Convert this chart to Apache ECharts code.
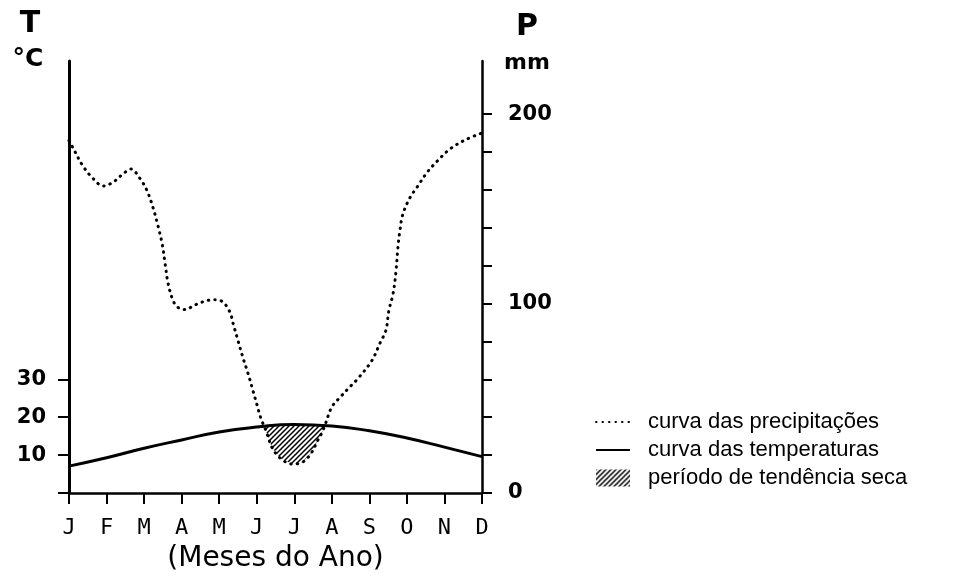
<!DOCTYPE html>
<html lang="pt">
<head>
<meta charset="UTF-8">
<title>Diagrama ombrotérmico</title>
<script src="https://cdn.jsdelivr.net/npm/echarts@6/dist/echarts.min.js"></script>
<style>
  html, body { margin: 0; padding: 0; background: #fff; }
  #chart { width: 978px; height: 578px; }
</style>
</head>
<body>
<div id="chart"></div>
<script>
// meses do ano (eixo x)
var months = ['J', 'F', 'M', 'A', 'M', 'J', 'J', 'A', 'S', 'O', 'N', 'D'];

// temperatura media mensal (°C)
var tempMonths = [0, 1, 2, 3, 4, 5, 6, 7, 8, 9, 10, 11];
var tempValues = [7.1, 9.3, 11.8, 14.0, 16.1, 17.4, 18.1, 17.7, 16.4, 14.5, 12.1, 9.6];

// precipitacao (mm), lida ao longo da curva pontilhada
var precipMonths = [0, 0.11, 0.37, 0.64, 0.91, 1.17, 1.44, 1.65, 1.89, 2.08, 2.24, 2.37, 2.48, 2.56, 2.64, 2.77, 2.9, 3.06,
  3.41, 3.68, 3.89, 4.1, 4.29, 4.37, 4.5, 4.63, 4.77, 4.9, 5.0, 5.11, 5.27, 5.4, 5.62, 5.94, 6.23, 6.47, 6.63, 6.74,
  6.82, 7.0, 7.22, 7.48, 7.7, 8.07, 8.28, 8.44, 8.52, 8.63, 8.71, 8.76, 8.81, 8.89, 9.08, 9.29, 9.53, 9.8, 10.15, 10.6, 11];
var precipValues = [186, 182, 172.6, 166, 162, 164, 168.4, 171, 166, 159.5, 150.5, 141, 131.6, 121, 110.5, 101.6, 98, 96.8,
  99.7, 101.6, 102, 100.8, 95.3, 89.5, 80.5, 71.6, 63, 54, 47, 39.5, 31.6, 24.3, 18.5, 15.3, 16.4, 21.6, 28, 32,
  35.9, 45.4, 50.5, 56, 60.5, 70, 79, 85.8, 96.3, 105, 117, 129.5, 138, 147, 155.8, 162, 169, 175, 181.6, 186.8, 190];

// ticks e rotulos dos eixos
var tempTicks = [0, 10, 20, 30];
var tempLabels = [10, 20, 30];
var precipTicks = [0, 20, 40, 60, 80, 100, 120, 140, 160, 180, 200];
var precipLabels = [0, 100, 200];

var seriesNames = ['curva das precipitações', 'curva das temperaturas', 'período de tendência seca'];

function zip(a, b) {
  return a.map(function (v, i) { return [v, b[i]]; });
}

function tempAt(m) {
  for (var i = 0; i < tempMonths.length - 1; i++) {
    if (m >= tempMonths[i] && m <= tempMonths[i + 1]) {
      var f = (m - tempMonths[i]) / (tempMonths[i + 1] - tempMonths[i]);
      return tempValues[i] + f * (tempValues[i + 1] - tempValues[i]);
    }
  }
  return tempValues[tempValues.length - 1];
}

// periodo seco: onde P < 2T (escala P = 2T)
function dryPolygon() {
  var d = precipMonths.map(function (m, i) { return 2 * tempAt(m) - precipValues[i]; });
  var start = null, end = null, inner = [];
  for (var i = 0; i < d.length - 1; i++) {
    if (start === null && d[i] <= 0 && d[i + 1] > 0) {
      var f = -d[i] / (d[i + 1] - d[i]);
      start = precipMonths[i] + f * (precipMonths[i + 1] - precipMonths[i]);
    } else if (start !== null && end === null && d[i] > 0 && d[i + 1] <= 0) {
      inner.push([precipMonths[i], precipValues[i]]);
      var g = d[i] / (d[i] - d[i + 1]);
      end = precipMonths[i] + g * (precipMonths[i + 1] - precipMonths[i]);
    } else if (start !== null && end === null && d[i] > 0) {
      inner.push([precipMonths[i], precipValues[i]]);
    }
  }
  var top = [[start, 2 * tempAt(start)]];
  tempMonths.forEach(function (m, i) {
    if (m > start && m < end) top.push([m, 2 * tempValues[i]]);
  });
  top.push([end, 2 * tempAt(end)]);
  return top.concat(inner.reverse());
}

// hachura diagonal
var hatchCanvas = document.createElement('canvas');
hatchCanvas.width = 5;
hatchCanvas.height = 5;
var hc = hatchCanvas.getContext('2d');
hc.strokeStyle = '#000';
hc.lineWidth = 1.5;
hc.beginPath();
hc.moveTo(-1, 6); hc.lineTo(6, -1);
hc.moveTo(-1, 1); hc.lineTo(1, -1);
hc.moveTo(4, 6); hc.lineTo(6, 4);
hc.stroke();
var hatch = { image: hatchCanvas, repeat: 'repeat' };

var poly = dryPolygon();

var chart = echarts.init(document.getElementById('chart'), null, { renderer: 'canvas' });

var option = {
  animation: false,
  backgroundColor: '#fff',
  grid: { left: 69, right: 496, top: 61, bottom: 85 },
  xAxis: {
    type: 'value',
    min: 0,
    max: 11,
    interval: 1,
    name: '(Meses do Ano)',
    nameLocation: 'middle',
    nameGap: 52,
    nameTextStyle: { fontFamily: 'DejaVu Sans', fontSize: 28, color: '#000' },
    axisLine: { lineStyle: { color: '#000', width: 2.5 } },
    axisTick: { length: 11, lineStyle: { color: '#000', width: 2 } },
    axisLabel: {
      margin: 24,
      fontFamily: 'DejaVu Sans Mono',
      fontSize: 22,
      color: '#000',
      formatter: function (v) { return months[v]; }
    },
    splitLine: { show: false }
  },
  yAxis: [
    {
      type: 'value',
      min: 0,
      max: 114,
      axisLine: { show: true, onZero: false, lineStyle: { color: '#000', width: 3 } },
      axisTick: { show: true, length: 11, customValues: tempTicks, lineStyle: { color: '#000', width: 2 } },
      axisLabel: {
        customValues: tempLabels,
        margin: 23,
        fontFamily: 'DejaVu Sans',
        fontWeight: 'bold',
        fontSize: 21,
        color: '#000'
      },
      splitLine: { show: false }
    },
    {
      type: 'value',
      min: 0,
      max: 228,
      position: 'right',
      axisLine: { show: true, onZero: false, lineStyle: { color: '#000', width: 2.5 } },
      axisTick: { show: true, length: 10, customValues: precipTicks, lineStyle: { color: '#000', width: 2 } },
      axisLabel: {
        customValues: precipLabels,
        margin: 26,
        fontFamily: 'DejaVu Sans',
        fontWeight: 'bold',
        fontSize: 21,
        color: '#000'
      },
      splitLine: { show: false }
    }
  ],
  legend: {
    orient: 'vertical',
    left: 590,
    top: 406,
    itemWidth: 34,
    itemHeight: 17,
    itemGap: 6,
    selectedMode: false,
    textStyle: {
      fontFamily: 'Liberation Sans',
      fontSize: 22,
      color: '#000',
      padding: [0, 0, 0, 13]
    },
    data: [
      { name: seriesNames[0], itemStyle: { opacity: 0 } },
      { name: seriesNames[1], itemStyle: { opacity: 0 } },
      { name: seriesNames[2], icon: 'rect' }
    ]
  },
  series: [
    {
      name: seriesNames[0],
      type: 'line',
      yAxisIndex: 1,
      data: zip(precipMonths, precipValues),
      smooth: 0.35,
      symbol: 'none',
      lineStyle: { color: '#000', width: 3, type: [0.5, 6], cap: 'round' },
      itemStyle: { color: '#000' },
      z: 3
    },
    {
      name: seriesNames[1],
      type: 'line',
      yAxisIndex: 0,
      data: zip(tempMonths, tempValues),
      smooth: true,
      symbol: 'none',
      lineStyle: { color: '#000', width: 3 },
      itemStyle: { color: '#000' },
      z: 4
    },
    {
      name: seriesNames[2],
      type: 'custom',
      yAxisIndex: 1,
      data: [[0, 0]],
      itemStyle: { color: hatch },
      renderItem: function (params, api) {
        return {
          type: 'polygon',
          shape: { points: poly.map(function (p) { return api.coord(p); }) },
          style: { fill: hatch, stroke: null }
        };
      },
      z: 2
    }
  ],
  graphic: [
    { type: 'text', x: 30, y: 24, style: { text: 'T', font: 'bold 30px "DejaVu Sans"', fill: '#000', align: 'center', verticalAlign: 'middle' } },
    { type: 'text', x: 28, y: 59, style: { text: '°C', font: 'bold 25px "DejaVu Sans"', fill: '#000', align: 'center', verticalAlign: 'middle' } },
    { type: 'text', x: 527, y: 27, style: { text: 'P', font: 'bold 30px "DejaVu Sans"', fill: '#000', align: 'center', verticalAlign: 'middle' } },
    { type: 'text', x: 527, y: 63, style: { text: 'mm', font: 'bold 22px "DejaVu Sans"', fill: '#000', align: 'center', verticalAlign: 'middle' } }
  ]
};

chart.setOption(option);
</script>
</body>
</html>
